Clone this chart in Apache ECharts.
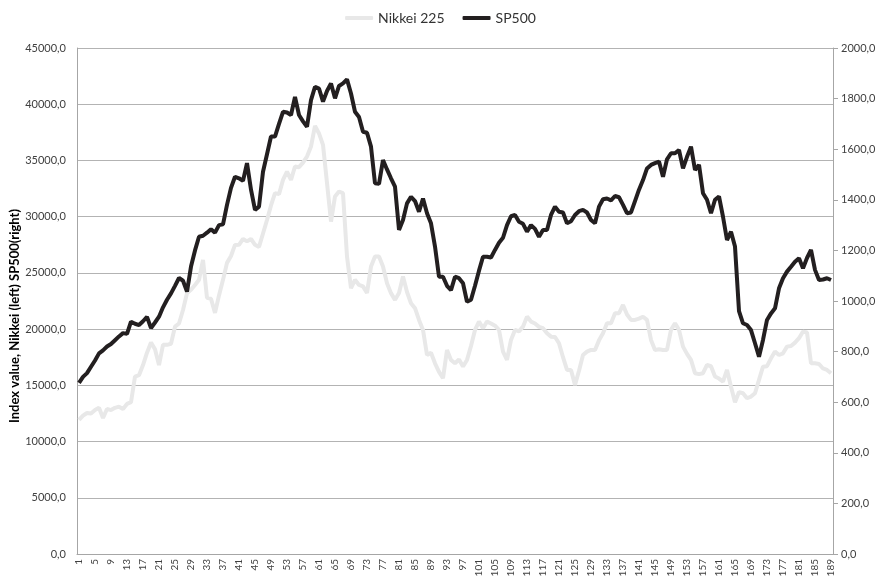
<!DOCTYPE html>
<html>
<head>
<meta charset="utf-8">
<title>Nikkei 225 vs SP500</title>
<script src="https://cdn.jsdelivr.net/npm/echarts@6/dist/echarts.min.js"></script>
<style>
  html, body { margin: 0; padding: 0; background: #fff; }
</style>
</head>
<body>
<div id="main" style="width:881px;height:580px;"></div>
<script type="text/javascript">
// x categories: observation number 1..189
var categories = [];
for (var i = 1; i <= 189; i++) categories.push(String(i));

// Nikkei 225 (left axis)
var nikkei = [
  11920, 12300, 12540, 12500, 12800, 13000, 12100, 12900, 12800, 13000,
  13100, 12900, 13350, 13500, 15780, 15900, 16800, 17900, 18800, 18200,
  16800, 18600, 18600, 18700, 20220, 20500, 21700, 23200, 23500, 23930,
  24380, 26150, 22780, 22700, 21440, 23000, 24380, 25890, 26500, 27490,
  27500, 28020, 27800, 28020, 27500, 27310, 28500, 29700, 31000, 32090,
  32000, 33270, 34000, 33270, 34460, 34400, 34800, 35350, 36240, 38080,
  37400, 36390, 33000, 29560, 31790, 32230, 32100, 26450, 23640, 24380,
  23930, 23800, 23220, 25560, 26450, 26450, 25560, 24080, 23200, 22600,
  23220, 24670, 23300, 22300, 21860, 20820, 19930, 17700, 17900, 16960,
  16200, 15630, 18150, 17260, 16960, 17300, 16670, 17260, 18500, 19930,
  20670, 20080, 20670, 20500, 20300, 19930, 18000, 17260, 19040, 19930,
  19800, 20220, 21110, 20670, 20500, 20200, 20080, 19630, 19330, 19300,
  18740, 17500, 16370, 16370, 15040, 16300, 17700, 18000, 18150, 18150,
  19000, 19630, 20520, 20520, 21410, 21410, 22150, 21300, 20820, 20820,
  20930, 21100, 20820, 19040, 18150, 18200, 18150, 18150, 19930, 20520,
  19930, 18440, 17800, 17260, 16080, 16000, 16080, 16810, 16700, 15780,
  15600, 15330, 16370, 14880, 13500, 14400, 14300, 13850, 14000, 14300,
  15480, 16660, 16700, 17400, 18000, 17700, 17850, 18440, 18500, 18800,
  19190, 19780, 19700, 16960, 16960, 16900, 16500, 16370, 16080
];

// SP500 (right axis)
var sp500 = [
  676, 700, 715, 740, 765, 793, 805, 820, 830, 845,
  860, 873, 870, 918, 910, 905, 920, 937, 893, 915,
  938, 975, 1005, 1030, 1060, 1091, 1080, 1037, 1136, 1200,
  1254, 1258, 1270, 1284, 1270, 1300, 1303, 1380, 1447, 1491,
  1485, 1475, 1545, 1440, 1360, 1373, 1511, 1580, 1650, 1650,
  1700, 1748, 1745, 1735, 1807, 1735, 1710, 1689, 1794, 1847,
  1840, 1788, 1830, 1860, 1801, 1850, 1860, 1876, 1820, 1748,
  1727, 1669, 1665, 1610, 1465, 1463, 1557, 1520, 1485, 1452,
  1281, 1320, 1386, 1412, 1395, 1353, 1405, 1347, 1307, 1215,
  1096, 1096, 1060, 1043, 1096, 1090, 1070, 997, 1005, 1060,
  1120, 1175, 1175, 1172, 1202, 1230, 1250, 1300, 1335, 1340,
  1313, 1305, 1274, 1300, 1285, 1254, 1281, 1281, 1340, 1373,
  1353, 1350, 1307, 1315, 1340, 1355, 1360, 1350, 1320, 1307,
  1373, 1402, 1405, 1398, 1415, 1410, 1380, 1347, 1350, 1395,
  1440, 1478, 1524, 1538, 1545, 1551, 1491, 1560, 1584, 1584,
  1597, 1524, 1570, 1610, 1518, 1538, 1426, 1400, 1347, 1400,
  1413, 1333, 1241, 1274, 1215, 960, 912, 905, 885, 833,
  780, 846, 925, 951, 971, 1050, 1090, 1116, 1135, 1155,
  1169, 1129, 1170, 1202, 1123, 1083, 1085, 1090, 1083
];

var seriesNames = ['Nikkei 225', 'SP500'];
var yTitle = 'Index value, Nikkei (left) SP500(right)';

var myChart = echarts.init(document.getElementById('main'));

function fmt(v) {
  return v.toFixed(1).replace('.', ',');
}

var font = 'Lato, "Open Sans", sans-serif';

var option = {
  animation: false,
  backgroundColor: '#ffffff',
  textStyle: { fontFamily: font },
  legend: {
    top: 6,
    left: 'center',
    itemWidth: 28,
    itemHeight: 4,
    itemGap: 18,
    icon: 'roundRect',
    textStyle: { fontSize: 14, color: '#333333', fontFamily: font },
    data: seriesNames
  },
  // axis title, placed like the original (centred a bit below the plot middle)
  graphic: [{
    type: 'text',
    x: 15,
    y: 316,
    rotation: Math.PI / 2,
    style: {
      text: yTitle,
      font: 'bold 13px Lato, sans-serif',
      fill: '#000000',
      align: 'center',
      verticalAlign: 'middle'
    }
  }],
  grid: {
    left: 77,
    right: 48,
    top: 48,
    bottom: 26,
    containLabel: false
  },
  xAxis: {
    type: 'category',
    data: categories,
    boundaryGap: true,
    axisLine: { lineStyle: { color: '#a6a6a6', width: 1 } },
    axisTick: { show: false },
    axisLabel: {
      interval: 3,
      rotate: 90,
      fontSize: 10,
      color: '#404040',
      margin: 5
    },
    splitLine: { show: false }
  },
  yAxis: [{
    type: 'value',
    min: 0,
    max: 45000,
    interval: 5000,
    axisLine: { show: true, lineStyle: { color: '#a6a6a6' } },
    axisTick: { show: false },
    axisLabel: { formatter: fmt, fontSize: 11, color: '#404040', margin: 11 },
    splitLine: { show: true, lineStyle: { color: '#b3b3b3', width: 1 } }
  }, {
    type: 'value',
    min: 0,
    max: 2000,
    interval: 200,
    position: 'right',
    axisLine: { show: true, lineStyle: { color: '#a6a6a6' } },
    axisTick: { show: true, inside: false, length: 5, lineStyle: { color: '#a6a6a6' } },
    axisLabel: { formatter: fmt, fontSize: 11, color: '#404040', margin: 8 },
    splitLine: { show: false }
  }],
  series: [{
    name: 'Nikkei 225',
    type: 'line',
    yAxisIndex: 0,
    data: nikkei,
    symbol: 'none',
    smooth: false,
    lineStyle: { color: '#e8e8e8', width: 4 },
    itemStyle: { color: '#e8e8e8' },
    z: 2
  }, {
    name: 'SP500',
    type: 'line',
    yAxisIndex: 1,
    data: sp500,
    symbol: 'none',
    smooth: false,
    lineStyle: { color: '#231f20', width: 4 },
    itemStyle: { color: '#231f20' },
    z: 3
  }]
};

myChart.setOption(option);
</script>
</body>
</html>
